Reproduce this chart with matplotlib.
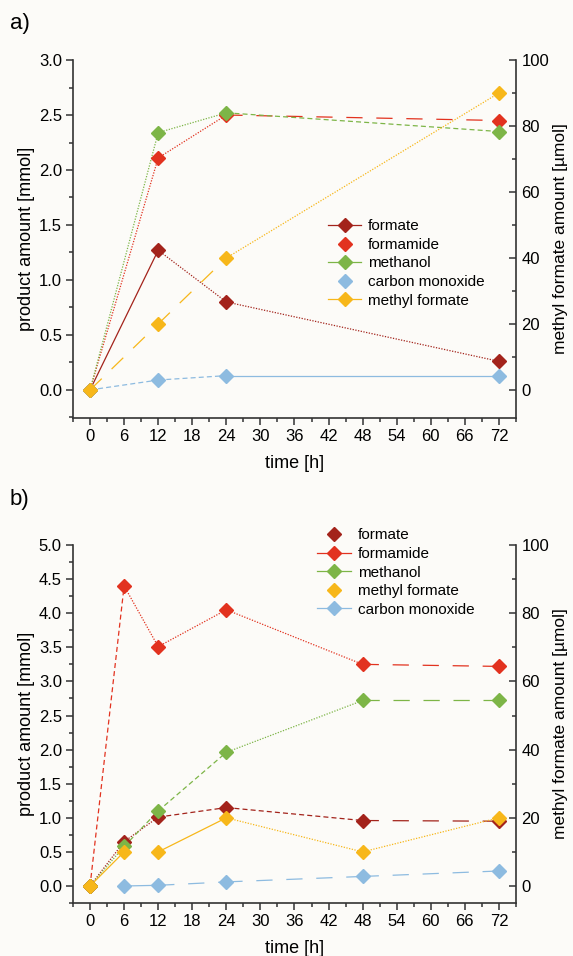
import matplotlib
matplotlib.use("Agg")
import matplotlib.pyplot as plt
from matplotlib.lines import Line2D
from matplotlib.ticker import MultipleLocator

plt.rcParams["font.family"] = ["Liberation Sans", "DejaVu Sans"]

# ---- data (panel a) : mmol on left axis, methyl formate in umol on right axis
t_a = [0, 12, 24, 72]
formate_a = [0.0, 1.27, 0.80, 0.26]
formamide_a = [0.0, 2.11, 2.50, 2.45]
methanol_a = [0.0, 2.34, 2.52, 2.35]
co_a = [0.0, 0.09, 0.13, 0.13]
mf_a = [0.0, 20.0, 40.0, 90.0]

# ---- data (panel b)
t_b = [0, 6, 12, 24, 48, 72]
formate_b = [0.0, 0.65, 1.01, 1.15, 0.96, 0.95]
formamide_b = [0.0, 4.40, 3.51, 4.05, 3.25, 3.22]
methanol_b = [0.0, 0.58, 1.10, 1.96, 2.72, 2.72]
mf_b = [0.0, 10.0, 10.0, 20.0, 10.0, 20.0]
t_co_b = [6, 12, 24, 48, 72]
co_b = [0.0, 0.01, 0.06, 0.14, 0.22]

C_FORMATE = "#a3231b"
C_FORMAMIDE = "#e2321f"
C_METHANOL = "#7db547"
C_CO = "#8dbbe0"
C_MF = "#f7b71a"

LS = {"-": "-", ":": (0, (1, 1.2)), "dash": (0, (4, 2.5)), "long": (0, (13, 11)), None: "None"}


def series(ax, t, y, color, styles, z=3):
    for i, s in enumerate(styles):
        if s is None:
            continue
        ax.plot(t[i:i + 2], y[i:i + 2], color=color, lw=0.9, ls=LS[s], zorder=z)
    ax.plot(t, y, ls="None", marker="D", ms=7, color=color, mec=color, zorder=z + 1)


def setup(ax, ax2, ylo, yhi, ymaj, ymin, rlo):
    ax.set_xlim(-3, 75)
    ax.set_ylim(ylo, yhi)
    ax.xaxis.set_major_locator(MultipleLocator(6))
    ax.xaxis.set_minor_locator(MultipleLocator(3))
    ax.yaxis.set_major_locator(MultipleLocator(ymaj))
    ax.yaxis.set_minor_locator(MultipleLocator(ymin))
    ax.yaxis.set_major_formatter(lambda v, p: f"{v:.1f}")
    ax.tick_params(axis="both", which="both", direction="out", labelsize=12, width=1.1, color="#333")
    ax.tick_params(which="major", length=5, pad=3)
    ax.tick_params(which="minor", length=3)
    ax.set_xlabel("time [h]", fontsize=13, labelpad=8)
    ax.set_ylabel("product amount [mmol]", fontsize=13, labelpad=3)
    for sp in ["top", "right"]:
        ax.spines[sp].set_visible(False)
    for sp in ["left", "bottom"]:
        ax.spines[sp].set_linewidth(1.2)
        ax.spines[sp].set_color("#333")
    ax.patch.set_visible(False)
    ax2.set_ylim(rlo, 100)
    ax2.yaxis.set_major_locator(MultipleLocator(20))
    ax2.yaxis.set_minor_locator(MultipleLocator(10))
    ax2.tick_params(axis="y", which="both", direction="in", labelsize=12, width=1.1, color="#333")
    ax2.tick_params(which="major", length=5, pad=4)
    ax2.tick_params(which="minor", length=3)
    ax2.set_ylabel("methyl formate amount [\u00b5mol]", fontsize=12.5, labelpad=3)
    for sp in ["top", "left", "bottom"]:
        ax2.spines[sp].set_visible(False)
    ax2.spines["right"].set_linewidth(1.2)
    ax2.spines["right"].set_color("#333")


def handle(color, line):
    return Line2D([], [], color=color, lw=0.9, ls="-" if line else "None", marker="D", ms=7)


fig = plt.figure(figsize=(5.73, 9.56), dpi=100, facecolor="#fcfbf8")
L, W = 0.1274, 0.7731

# panel a
ax = fig.add_axes([L, 0.5628, W, 0.9372 - 0.5628])
ax2 = ax.twinx()
setup(ax, ax2, -0.255, 3.0, 0.5, 0.25, -8.5)
series(ax, t_a, formate_a, C_FORMATE, ["-", ":", ":"])
series(ax, t_a, formamide_a, C_FORMAMIDE, [":", ":", "long"])
series(ax, t_a, methanol_a, C_METHANOL, [":", ":", "dash"])
series(ax, t_a, co_a, C_CO, ["dash", "dash", "-"])
series(ax2, t_a, mf_a, C_MF, ["long", "long", ":"])
ax2.legend([handle(C_FORMATE, True), handle(C_FORMAMIDE, False), handle(C_METHANOL, True),
            handle(C_CO, False), handle(C_MF, True)],
           ["formate", "formamide", "methanol", "carbon monoxide", "methyl formate"],
           loc="upper left", bbox_to_anchor=(0.548, 0.785), bbox_transform=fig.transFigure,
           frameon=False, fontsize=11, handlelength=2.2, handletextpad=0.45, labelspacing=0.3)
fig.text(0.017, 0.975, "a)", fontsize=16, va="center")

# panel b
bx = fig.add_axes([L, 0.0554, W, 0.4299 - 0.0554])
bx2 = bx.twinx()
setup(bx, bx2, -0.25, 5.0, 0.5, 0.25, -5)
series(bx, t_b, formate_b, C_FORMATE, [":", ":", "dash", "dash", "long"])
series(bx, t_b, formamide_b, C_FORMAMIDE, ["dash", ":", ":", ":", "long"])
series(bx, t_b, methanol_b, C_METHANOL, [":", "dash", "dash", ":", "long"])
series(bx, t_co_b, co_b, C_CO, ["-", "long", "long", "long"])
series(bx2, t_b, mf_b, C_MF, ["-", None, "-", ":", ":"])
bx2.legend([handle(C_FORMATE, False), handle(C_FORMAMIDE, True), handle(C_METHANOL, True),
            handle(C_MF, False), handle(C_CO, True)],
           ["formate", "formamide", "methanol", "methyl formate", "carbon monoxide"],
           loc="upper left", bbox_to_anchor=(0.530, 0.4617), bbox_transform=fig.transFigure,
           frameon=False, fontsize=11, handlelength=2.2, handletextpad=0.45, labelspacing=0.3)
fig.text(0.017, 0.478, "b)", fontsize=16, va="center")

fig.savefig("out.png", dpi=100, facecolor=fig.get_facecolor())
